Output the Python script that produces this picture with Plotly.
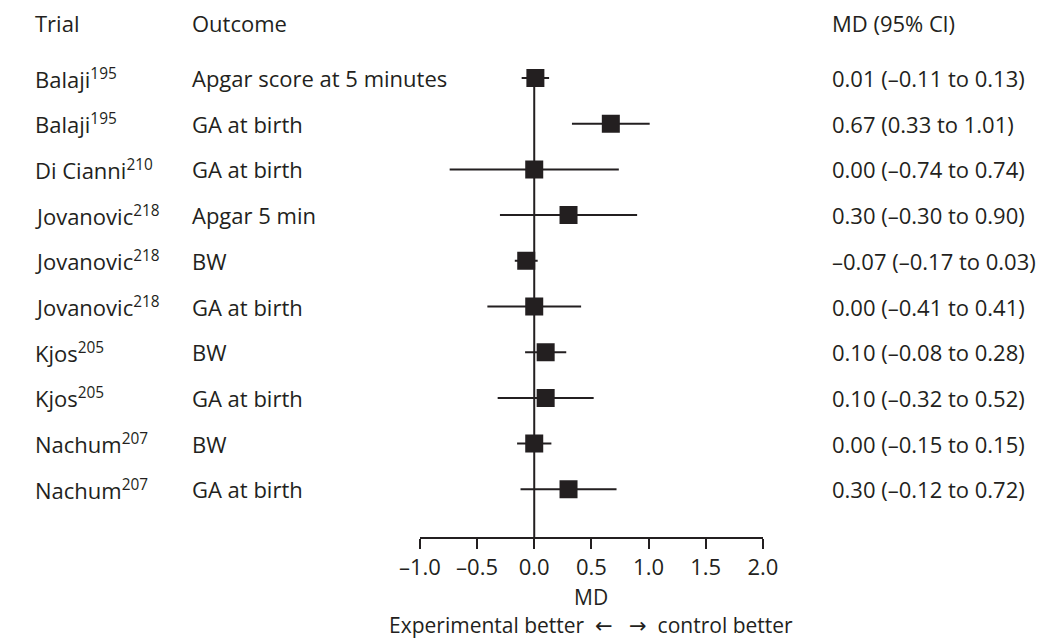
import plotly.graph_objects as go

# Forest plot data
trials = ["Balaji<sup>195</sup>", "Balaji<sup>195</sup>", "Di Cianni<sup>210</sup>",
          "Jovanovic<sup>218</sup>", "Jovanovic<sup>218</sup>", "Jovanovic<sup>218</sup>",
          "Kjos<sup>205</sup>", "Kjos<sup>205</sup>", "Nachum<sup>207</sup>", "Nachum<sup>207</sup>"]
outcomes = ["Apgar score at 5 minutes", "GA at birth", "GA at birth", "Apgar 5 min", "BW",
            "GA at birth", "BW", "GA at birth", "BW", "GA at birth"]
md = [0.01, 0.67, 0.00, 0.30, -0.07, 0.00, 0.10, 0.10, 0.00, 0.30]
ci_low = [-0.11, 0.33, -0.74, -0.30, -0.17, -0.41, -0.08, -0.32, -0.15, -0.12]
ci_high = [0.13, 1.01, 0.74, 0.90, 0.03, 0.41, 0.28, 0.52, 0.15, 0.72]
tick_vals = [-1.0, -0.5, 0.0, 0.5, 1.0, 1.5, 2.0]
tick_text = ["\u20131.0", "\u20130.5", "0.0", "0.5", "1.0", "1.5", "2.0"]

W, H = 1057, 639
INK = "#231f20"
FONT = "Open Sans"
FS = 22


def fmt(v):
    return f"{v:.2f}".replace("-", "\u2013")


rows = list(range(len(md)))
labels = [f"{fmt(m)} ({fmt(lo)} to {fmt(hi)})" for m, lo, hi in zip(md, ci_low, ci_high)]

fig = go.Figure()
fig.add_trace(go.Scatter(
    x=md, y=rows, mode="markers",
    marker=dict(symbol="square", size=18, color=INK),
    error_x=dict(type="data", symmetric=False,
                 array=[h - m for h, m in zip(ci_high, md)],
                 arrayminus=[m - l for m, l in zip(md, ci_low)],
                 width=0, thickness=2, color=INK),
    hoverinfo="skip", showlegend=False,
))

row_px, row_gap, axis_px = 78, 45.7, 537
y_bottom = (axis_px - row_px) / row_gap

# line of no effect, from the first row down to the axis
fig.add_shape(type="line", x0=0, x1=0, y0=0, y1=y_bottom, xref="x", yref="y",
              layer="below", line=dict(color=INK, width=2))

ann = []
col_trial, col_out, col_md = 12 / W, 175 / W, 838 / W
head_y = -1.2
txt_font = dict(family=FONT, size=FS, color=INK)
for x, t in [(col_trial, "Trial"), (col_out, "Outcome"), (col_md, "MD (95% Cl)")]:
    ann.append(dict(x=x, y=head_y, xref="paper", yref="y", text=t, showarrow=False,
                    xanchor="left", yanchor="middle", font=txt_font))
for r, t, o, l in zip(rows, trials, outcomes, labels):
    for x, txt in [(col_trial, t), (col_out, o), (col_md, l)]:
        ann.append(dict(x=x, y=r, xref="paper", yref="y", text=txt, showarrow=False,
                        xanchor="left", yanchor="middle", font=txt_font))

arrows = ("<span style='font-family:DejaVu Sans'>\u2190</span>&nbsp;&nbsp; "
          "<span style='font-family:DejaVu Sans'>\u2192</span>")
ann.append(dict(x=0.5, y=1 - 597 / H, xref="x", yref="paper", text="MD", showarrow=False,
                xanchor="center", yanchor="middle", font=dict(family=FONT, size=21, color=INK)))
ann.append(dict(x=0.5, y=1 - 625 / H, xref="x", yref="paper",
                text=f"Experimental better&nbsp; {arrows} &nbsp;control better", showarrow=False,
                xanchor="center", yanchor="middle", font=dict(family=FONT, size=21, color=INK)))

fig.update_layout(
    width=W, height=H,
    margin=dict(l=0, r=0, t=0, b=0),
    plot_bgcolor="white", paper_bgcolor="white",
    font=dict(family=FONT, size=FS, color=INK),
    annotations=ann,
    xaxis=dict(domain=[413 / W, 768 / W], range=[-1.0, 2.0],
               tickvals=tick_vals, ticktext=tick_text,
               tickfont=dict(family=FONT, size=22, color=INK),
               showline=True, linecolor=INK, linewidth=2,
               ticks="outside", ticklen=10, tickwidth=2, tickcolor=INK,
               ticklabelstandoff=0,
               showgrid=False, zeroline=False, fixedrange=True),
    yaxis=dict(domain=[1 - axis_px / H, 1],
               range=[y_bottom, -row_px / row_gap],
               visible=False, showgrid=False, zeroline=False, fixedrange=True),
)

fig.write_html("out.html", config={"displayModeBar": False},
               post_script="document.body.style.margin='0';")
